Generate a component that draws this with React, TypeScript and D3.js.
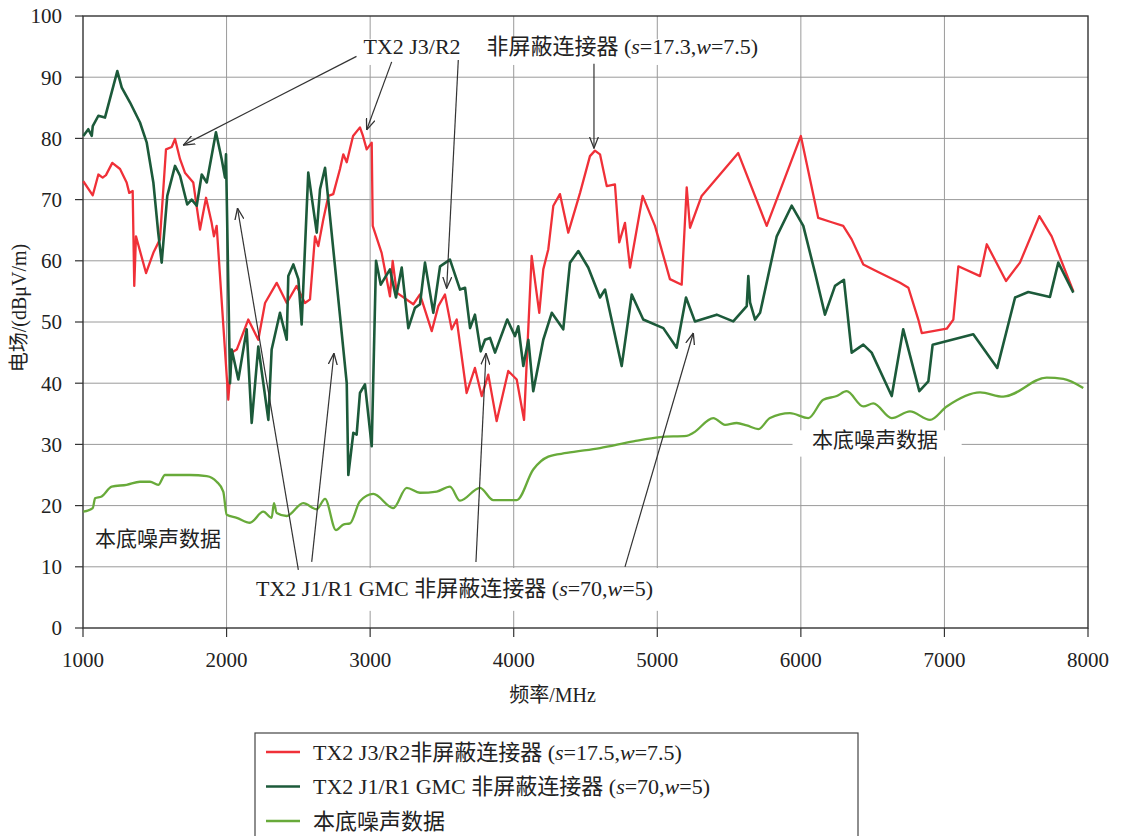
import React from "react";
import * as d3 from "d3";

// ---- data (frequency MHz, field dBµV/m) ----
const redFreq = [1002,1068,1107,1137,1160,1204,1258,1304,1322,1346,1357,1369,1439,1490,1536,1578,1618,1641,1676,1710,1768,1815,1857,1896,1912,1931,2012,2036,2071,2151,2221,2268,2349,2419,2488,2546,2581,2616,2639,2674,2709,2743,2790,2813,2837,2881,2929,2950,2976,3011,3018,3080,3138,3157,3185,3301,3347,3429,3475,3521,3568,3603,3672,3730,3777,3823,3881,3962,4021,4072,4125,4178,4206,4241,4276,4322,4380,4462,4531,4566,4601,4648,4705,4735,4775,4810,4898,4984,5088,5170,5205,5228,5309,5564,5762,6000,6121,6215,6295,6354,6435,6528,6691,6749,6818,6842,6920,7016,7062,7097,7248,7295,7429,7526,7661,7747,7898];
const redVal = [73.0,70.7,74.1,73.6,74,76,75,72.8,71.1,71.4,55.9,64,58,61.3,63.5,78.2,78.6,79.9,76.6,74.4,72.8,65.1,70.3,66.2,64,65.7,37.3,45,45.5,50.4,47.1,53.1,56.4,53.1,55.9,53.1,53.7,64,62.4,66.8,70.6,70.9,75,77.4,76.1,80.4,81.8,80.4,78.2,79.3,65.7,61.3,54.2,60,54.8,52.9,54.5,48.5,52.6,54.5,48.8,50.4,38.4,42.5,37.9,41.4,33.8,42,40.6,34,60.8,51.5,58.6,61.9,69,70.9,64.6,71.1,77.1,78,77.4,72.2,72.5,63,66.2,58.9,70.6,65.7,57,56.1,72,65.4,70.6,77.6,65.7,80.4,67,66.3,65.7,63.5,59.4,58.3,56.4,55.6,50.4,48.2,48.5,48.9,50.4,59.1,57.5,62.7,56.7,59.7,67.3,64,55];

const gmcFreq = [1002,1037,1061,1068,1107,1153,1239,1270,1327,1397,1444,1490,1524,1548,1587,1641,1676,1726,1757,1792,1827,1862,1926,1966,1989,1996,2024,2036,2082,2140,2175,2221,2291,2314,2372,2419,2430,2465,2500,2523,2569,2628,2651,2686,2720,2790,2837,2848,2883,2906,2929,2964,3011,3041,3074,3138,3180,3220,3266,3312,3347,3382,3440,3487,3556,3626,3661,3696,3730,3770,3800,3835,3870,3955,4009,4032,4067,4102,4136,4206,4265,4345,4392,4450,4519,4601,4636,4752,4822,4902,5042,5135,5200,5262,5414,5529,5623,5634,5646,5681,5716,5832,5936,6017,6099,6168,6238,6300,6354,6435,6493,6633,6713,6825,6888,6918,7201,7368,7492,7584,7735,7793,7898];
const gmcVal = [80.4,81.5,80.4,82,83.7,83.4,91,88.3,85.9,82.6,79.3,72.8,64.6,59.7,70.6,75.5,73.9,69.2,70,69,74.1,72.8,81,76.6,73.6,77.4,40,45.5,40.6,48.8,33.5,46,34,45.5,51.5,47.1,57.5,59.4,57,49.6,74.4,64.6,71.7,75.2,67.3,51,40,25,31.9,31.6,38.4,39.8,29.7,60,56.1,58.6,54,58.9,49,52.3,52.9,59.7,51.5,59.1,60.2,55.3,55.6,49,51.2,45.2,47.1,47.4,45,50.4,47.7,49.3,42.8,47.1,38.7,47.1,51.5,48.8,59.7,61.6,58.9,54,55.3,42.8,54.5,50.4,49,45.8,54,50.1,51.2,50.1,52.6,57.5,53.2,50.4,51.5,64,69,65.7,58,51.2,55.9,56.9,45,46.3,45,37.9,48.8,38.7,40.3,46.3,48,42.5,54,54.9,54.1,59.7,54.8];

const noiseFreq = [1002,1068,1084,1130,1200,1304,1397,1467,1524,1571,1745,1862,1931,1977,2001,2071,2163,2256,2314,2330,2349,2419,2534,2628,2686,2762,2813,2860,2929,3022,3161,3255,3347,3464,3556,3626,3765,3858,4021,4136,4241,4369,4601,4833,5019,5205,5251,5390,5472,5553,5623,5704,5785,5924,6052,6156,6250,6319,6435,6505,6633,6760,6899,7016,7248,7410,7712,7828,7967];
const noiseVal = [19,19.6,21.2,21.5,23.1,23.4,23.9,23.9,23.4,25,25,24.8,23.9,22.3,18.5,18,17.2,19,18,20.4,18.8,18.3,20.4,19.4,21.1,16,16.9,17.1,20.7,21.9,19.6,22.9,22.1,22.3,23.1,20.8,22.9,20.9,20.9,25.9,28,28.6,29.4,30.5,31.2,31.4,31.9,34.3,33.2,33.5,33.1,32.5,34.3,35.1,34.3,37.3,37.9,38.7,36.2,36.7,34.3,35.4,34,36.2,38.5,37.8,40.9,40.7,39.2];

const xTicks = [1000, 2000, 3000, 4000, 5000, 6000, 7000, 8000];
const yTicks = [0, 10, 20, 30, 40, 50, 60, 70, 80, 90, 100];

const legendLabels = [
  ["TX2 J3/R2非屏蔽连接器 (", "s", "=17.5,", "w", "=7.5)"],
  ["TX2 J1/R1 GMC 非屏蔽连接器 (", "s", "=70,", "w", "=5)"],
  ["本底噪声数据"],
];

// arrows: [fromF, fromV, toF, toV]
const arrowsTop = [
  [2905, 93.4, 1699, 78.9],
  [3150, 92.5, 2976, 81.4],
  [3614, 92.8, 3533, 55.5],
  [4559, 92.2, 4559, 78.4],
];
const arrowsBottom = [
  [2500, 9.5, 2076, 68.6],
  [2593, 10.8, 2748, 44.9],
  [3737, 10.8, 3807, 44.9],
  [4775, 10.0, 5251, 48.2],
];

const W = 1122, H = 836;
const M = { left: 83, right: 1088, top: 16, bottom: 628 };
const FONT = "'Liberation Serif', 'Noto Sans CJK SC', serif";
const TXT = "#222";
const RED = "#f03038";
const DKG = "#1c5a3a";
const LTG = "#68aa3a";

export default function App() {
  const x = d3.scaleLinear().domain([1000, 8000]).range([M.left, M.right]);
  const y = d3.scaleLinear().domain([0, 100]).range([M.bottom, M.top]);

  const lineLin = d3.line<[number, number]>().x(d => x(d[0])).y(d => y(d[1]));
  const lineSmooth = d3.line<[number, number]>().x(d => x(d[0])).y(d => y(d[1])).curve(d3.curveMonotoneX);

  const red = redFreq.map((f, i) => [f, redVal[i]] as [number, number]);
  const gmc = gmcFreq.map((f, i) => [f, gmcVal[i]] as [number, number]);
  const noise = noiseFreq.map((f, i) => [f, noiseVal[i]] as [number, number]);

  const italic = (parts: string[]) =>
    parts.map((p, i) => (
      <tspan key={i} fontStyle={p === "s" || p === "w" ? "italic" : "normal"}>{p}</tspan>
    ));

  const arrow = (a: number[], i: number) => (
    <line key={i} x1={x(a[0])} y1={y(a[1])} x2={x(a[2])} y2={y(a[3])}
      stroke="#333" strokeWidth={1.2} markerEnd="url(#arr)" />
  );

  return (
    <svg width={W} height={H} style={{ position: "absolute", left: 0, top: 0, background: "#fff" }}
      fontFamily={FONT}>
      <defs>
        <marker id="arr" viewBox="0 0 12 10" refX="11.5" refY="5" markerWidth="12" markerHeight="10"
          markerUnits="userSpaceOnUse" orient="auto">
          <path d="M0,0.5 L11.5,5 L0,9.5" fill="none" stroke="#333" strokeWidth={1.3} />
        </marker>
      </defs>
      <rect width={W} height={H} fill="#fff" />

      {/* grid */}
      {yTicks.slice(1, -1).map(t => (
        <line key={"gy" + t} x1={M.left} x2={M.right} y1={y(t)} y2={y(t)} stroke="#9a9a9a" strokeWidth={1} />
      ))}
      {xTicks.slice(1, -1).map(t => (
        <line key={"gx" + t} x1={x(t)} x2={x(t)} y1={M.top} y2={M.bottom} stroke="#9a9a9a" strokeWidth={1} />
      ))}

      {/* annotation backgrounds */}
      <rect x={x(2915)} y={y(96.2)} width={x(5800) - x(2915)} height={y(92.0) - y(96.2)} fill="#fff" />
      <rect x={x(2165)} y={y(9.8)} width={x(5040) - x(2165)} height={y(2.8) - y(9.8)} fill="#fff" />
      <rect x={x(5942)} y={y(32.3)} width={x(7120) - x(5942)} height={y(28.0) - y(32.3)} fill="#fff" />

      {/* frame */}
      <rect x={M.left} y={M.top} width={M.right - M.left} height={M.bottom - M.top} fill="none" stroke="#333" strokeWidth={1.4} />

      {/* ticks */}
      {yTicks.map(t => (
        <g key={"ty" + t}>
          <line x1={M.left - 8} x2={M.left} y1={y(t)} y2={y(t)} stroke="#333" strokeWidth={1.2} />
          <text x={M.left - 21} y={y(t)} dy="0.35em" textAnchor="end" fontSize={21} fill={TXT}>{t}</text>
        </g>
      ))}
      {xTicks.map(t => (
        <g key={"tx" + t}>
          <line x1={x(t)} x2={x(t)} y1={M.bottom} y2={M.bottom + 9} stroke="#333" strokeWidth={1.2} />
          <text x={x(t)} y={M.bottom + 39} textAnchor="middle" fontSize={21} fill={TXT}>{t}</text>
        </g>
      ))}

      {/* axis titles */}
      <text transform={`translate(26,308) rotate(-90)`} textAnchor="middle" fontSize={20} fill={TXT}>电场/(dBμV/m)</text>
      <text x={(M.left + M.right) / 2 - 33} y={702} textAnchor="middle" fontSize={20} fill={TXT}>频率/MHz</text>

      {/* series */}
      <path d={lineSmooth(noise) || ""} fill="none" stroke={LTG} strokeWidth={2.3} strokeLinejoin="round" />
      <path d={lineLin(red) || ""} fill="none" stroke={RED} strokeWidth={2.3} strokeLinejoin="round" />
      <path d={lineLin(gmc) || ""} fill="none" stroke={DKG} strokeWidth={2.6} strokeLinejoin="round" />

      {/* annotations */}
      {arrowsTop.map(arrow)}
      {arrowsBottom.map((a, i) => arrow(a, i + 10))}
      <text x={x(2953)} y={y(93.8)} fontSize={22} fill={TXT}>TX2 J3/R2</text>
      <text x={x(3810)} y={y(93.8)} fontSize={22} fill={TXT}>{italic(["非屏蔽连接器 (", "s", "=17.3,", "w", "=7.5)"])}</text>
      <text x={x(2205)} y={y(5.2)} fontSize={22} fill={TXT}>{italic(["TX2 J1/R1 GMC 非屏蔽连接器 (", "s", "=70,", "w", "=5)"])}</text>
      <text x={x(1084)} y={y(13.4)} fontSize={21} fill={TXT}>本底噪声数据</text>
      <text x={x(6077)} y={y(29.6)} fontSize={21} fill={TXT}>本底噪声数据</text>

      {/* legend */}
      <rect x={255} y={733} width={603} height={130} fill="#fff" stroke="#444" strokeWidth={1.2} />
      {legendLabels.map((lab, i) => {
        const cy = 752 + i * 34.5;
        const col = [RED, DKG, LTG][i];
        return (
          <g key={"lg" + i}>
            <line x1={266} x2={300} y1={cy} y2={cy} stroke={col} strokeWidth={2.6} />
            <text x={313} y={cy} dy="0.36em" fontSize={22} fill={TXT}>{italic(lab)}</text>
          </g>
        );
      })}
    </svg>
  );
}
